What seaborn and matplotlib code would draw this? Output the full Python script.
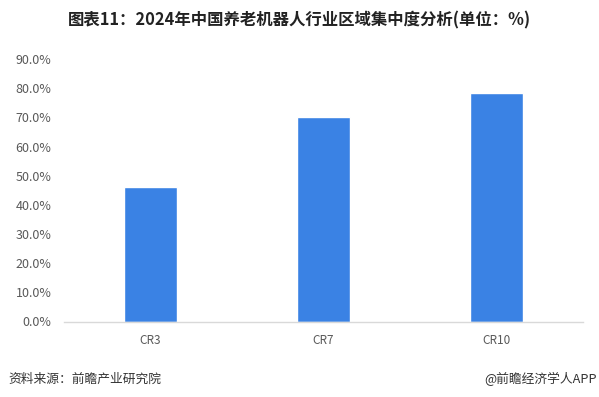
import matplotlib
matplotlib.use("Agg")
import matplotlib.pyplot as plt
import seaborn as sns
import pandas as pd
from matplotlib.ticker import FuncFormatter, MultipleLocator

categories = ["CR3", "CR7", "CR10"]
values = [46.2, 70.1, 78.4]

sns.set_theme(style="white")
plt.rcParams['font.family'] = ['Noto Sans CJK SC', 'DejaVu Sans']

df = pd.DataFrame({"cat": categories, "val": values})

fig = plt.figure(figsize=(5.99, 3.97), dpi=100)
ax = fig.add_axes([64/599, 1-321.5/397, (583-64)/599, (321.5-59)/397])
sns.barplot(data=df, x="cat", y="val", color="#3A82E4", width=0.31,
            saturation=1, ax=ax)
ax.set_ylim(0, 90)
ax.yaxis.set_major_locator(MultipleLocator(10))
ax.yaxis.set_major_formatter(FuncFormatter(lambda v, p: f"{v:.1f}%"))
ax.set_xlabel("")
ax.set_ylabel("")
for s in ["top", "right", "left"]:
    ax.spines[s].set_visible(False)
ax.spines["bottom"].set_color("#D9D9D9")
ax.spines["bottom"].set_linewidth(1)
ax.tick_params(axis="y", length=0, pad=9, labelsize=9, labelcolor="#595959")
ax.tick_params(axis="x", length=0, pad=9, labelsize=8.5, labelcolor="#595959")
ax.grid(False)

fig.text(299/599, 1-20/397, "图表11：2024年中国养老机器人行业区域集中度分析(单位：%)",
         ha="center", va="center", fontsize=11.8, fontweight="bold", color="#222222")
fig.text(8/599, 1-379/397, "资料来源：前瞻产业研究院", ha="left", va="center",
         fontsize=9.2, color="#333333")
fig.text(597/599, 1-379/397, "@前瞻经济学人APP", ha="right", va="center",
         fontsize=9.2, color="#333333")

fig.savefig("out.png", dpi=100)
